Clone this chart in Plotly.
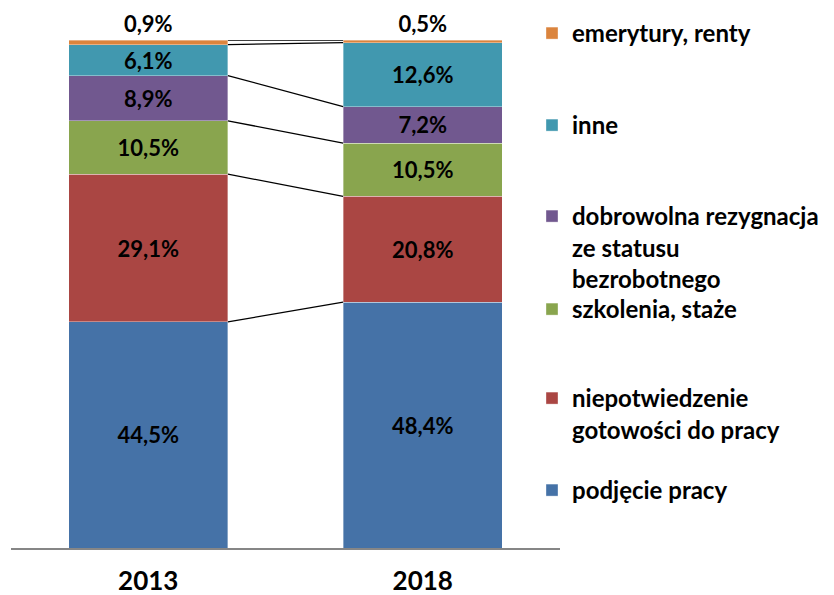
import plotly.graph_objects as go

years = ["2013", "2018"]
series_names = [
    "podjęcie pracy",
    "niepotwiedzenie<br>gotowości do pracy",
    "szkolenia, staże",
    "dobrowolna rezygnacja<br>ze statusu<br>bezrobotnego",
    "inne",
    "emerytury, renty",
]
podjecie = [44.5, 48.4]
niepotw = [29.1, 20.8]
szkolenia = [10.5, 10.5]
dobrowolna = [8.9, 7.2]
inne = [6.1, 12.6]
emerytury = [0.9, 0.5]

values = [podjecie, niepotw, szkolenia, dobrowolna, inne, emerytury]
colors = ["#4572A7", "#AA4643", "#89A54E", "#71588F", "#4198AF", "#DB843D"]

FONT = "Lato"
BAR_W = 0.58
xpos = list(range(len(years)))

fig = go.Figure()

# legend text line centre (px) for each series
legend_px = [490, 398, 309, 216, 125, 33]
plot_top, plot_bot = 40, 548

for i, (name, vals, col) in enumerate(zip(series_names, values, colors)):
    top = i == len(values) - 1
    lg = "legend" if i == 0 else f"legend{i+1}"
    fig.add_trace(go.Bar(
        x=xpos, y=vals, name=name, width=BAR_W,
        marker=dict(color=col, line=dict(color="rgba(255,255,255,0.6)", width=0.6)),
        texttemplate="%{y:.1f}%",
        textposition="outside" if top else "inside",
        insidetextanchor="middle",
        textangle=0,
        constraintext="none",
        cliponaxis=False,
        textfont=dict(family=FONT, size=22, color="black", weight="bold"),
        legend=lg,
        hoverinfo="skip",
    ))

# series connector lines from cumulative sums
cum = [0.0, 0.0]
for vals in values:
    cum = [cum[0] + vals[0], cum[1] + vals[1]]
    fig.add_trace(go.Scatter(
        x=[BAR_W / 2, 1 - BAR_W / 2], y=cum, mode="lines",
        line=dict(color="black", width=1.3), showlegend=False,
        hoverinfo="skip", cliponaxis=False,
    ))

layout_legends = {}
for i in range(len(values)):
    key = "legend" if i == 0 else f"legend{i+1}"
    ypx = legend_px[i]
    yp = (plot_bot - (ypx - 22)) / (plot_bot - plot_top)
    layout_legends[key] = dict(
        x=(532 - 11) / 549, xanchor="left", y=yp, yanchor="top",
        font=dict(family=FONT, size=24, color="black", weight="bold"),
        bgcolor="rgba(0,0,0,0)", valign="top",
        itemclick=False, itemdoubleclick=False,
    )

fig.update_layout(
    width=834, height=595,
    margin=dict(l=11, r=274, t=40, b=47, autoexpand=False),
    barmode="stack",
    bargap=0.42,
    separators=", ",
    plot_bgcolor="white", paper_bgcolor="white",
    showlegend=True,
    xaxis=dict(
        range=[-0.5, 1.5], tickvals=xpos, ticktext=years,
        showline=True, linecolor="#868686", linewidth=2,
        ticks="", showgrid=False, zeroline=False, automargin=False,
        ticklabelstandoff=9,
        tickfont=dict(family=FONT, size=26, color="black", weight="bold"),
    ),
    yaxis=dict(range=[0, 100], visible=False, showgrid=False, zeroline=False),
    **layout_legends,
)

fig.write_html(
    "out.html",
    config={"displayModeBar": False},
    post_script="document.body.style.margin='0';document.body.style.padding='0';",
)
